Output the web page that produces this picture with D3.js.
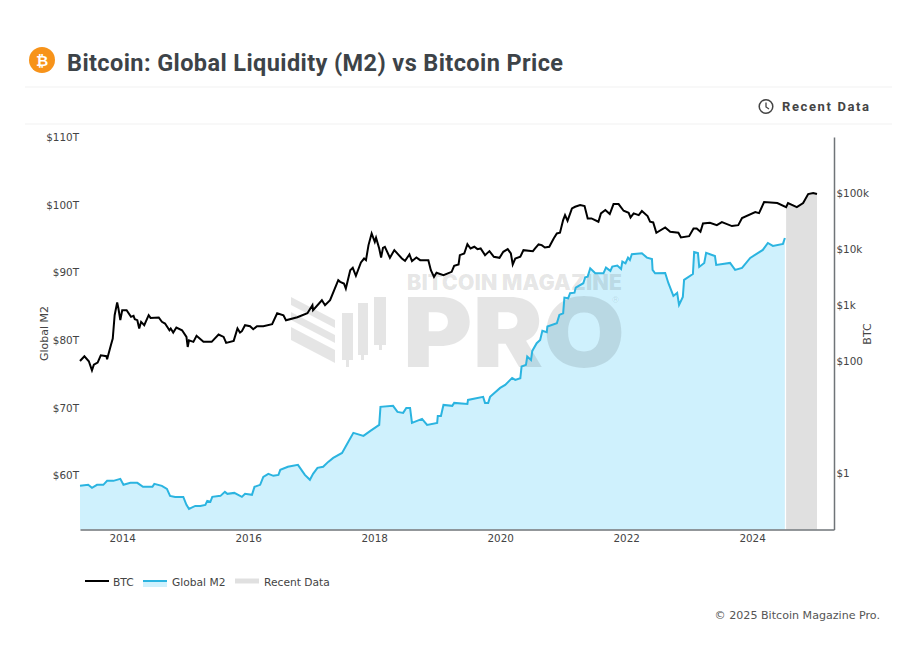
<!DOCTYPE html>
<html><head><meta charset="utf-8">
<script src="https://cdn.jsdelivr.net/npm/d3@7"></script>
<style>html,body{margin:0;padding:0;background:#fff}svg{display:block}</style>
</head><body><div id="c"></div>
<script>
const btcYears=[2013.33,2013.40,2013.47,2013.52,2013.55,2013.61,2013.66,2013.75,2013.76,2013.82,2013.85,2013.88,2013.92,2013.94,2013.97,2014.00,2014.07,2014.14,2014.18,2014.20,2014.24,2014.27,2014.30,2014.35,2014.42,2014.45,2014.58,2014.63,2014.68,2014.75,2014.77,2014.81,2014.86,2014.95,2015.02,2015.04,2015.06,2015.13,2015.18,2015.29,2015.42,2015.53,2015.61,2015.65,2015.77,2015.83,2015.87,
2015.90,2015.95,2016.03,2016.08,2016.14,2016.24,2016.38,2016.46,2016.56,2016.60,2016.78,2016.94,2017.02,2017.03,2017.17,2017.22,2017.30,2017.43,
2017.46,2017.52,2017.55,2017.62,2017.66,2017.71,2017.79,2017.84,2017.87,2017.91,2017.96,2018.01,2018.03,2018.08,2018.11,2018.14,2018.17,2018.25,2018.32,2018.44,2018.49,2018.56,2018.60,2018.67,2018.73,2018.86,2018.90,2018.95,2018.99,2019.10,2019.23,2019.27,2019.34,2019.36,2019.43,2019.48,2019.53,2019.59,2019.64,2019.69,2019.76,2019.83,2019.90,2019.99,2020.05,2020.12,2020.17,2020.20,2020.24,2020.32,2020.37,2020.52,
2020.555,2020.61,2020.66,2020.71,2020.78,2020.85,2020.90,2020.95,2021.00,2021.03,2021.07,2021.14,2021.19,2021.27,2021.34,2021.39,2021.45,2021.56,2021.60,2021.67,2021.74,2021.80,2021.88,2021.96,2022.04,2022.07,2022.12,2022.20,2022.25,2022.34,2022.38,2022.43,2022.48,2022.62,2022.70,2022.83,2022.87,2023.00,2023.07,2023.12,2023.18,2023.22,2023.33,
2023.44,2023.52,2023.68,2023.78,2023.84,2024.05,2024.11,2024.19,2024.40,2024.54,2024.57,2024.71,2024.81,2024.89,2024.97,2025.03];
const btcPrice=[101,123,100,69,87,95,128,123,109,193,254,664,1117,873,541,815,815,620,645,562,541,384,505,440,664,594,603,505,471,358,384,325,400,358,272,180,237,222,284,222,222,300,272,213,231,384,325,
344,440,422,373,422,422,458,720,662,540,611,720,1000,815,1227,1000,1227,2793,
2612,2438,1986,4217,4645,3342,5781,6808,6360,11800,19050,13500,15960,10280,7112,10570,11020,7015,9616,6808,6194,8030,6109,7112,6360,6360,4217,3206,3784,3436,3938,5050,5333,7816,8375,12300,10280,11020,10000,10280,7816,9226,7311,7015,8974,10000,8375,5333,6808,7311,9600,9210,
10280,12130,11800,10720,11020,15520,19050,19590,32980,40550,32060,53330,57020,61090,58610,35320,35320,30830,43350,49770,42170,63680,63680,48420,44570,36810,43350,40460,47750,38900,30830,29990,19590,24380,20420,19590,16180,17060,23390,23390,20420,28770,29580,
26800,30300,25800,26800,35800,45800,43900,69000,66300,56200,66300,56200,66300,96000,100000,96000];
const m2Years=[2013.33,2013.46,2013.52,2013.60,2013.70,2013.76,2013.86,2013.97,2014.02,2014.13,2014.24,2014.33,2014.48,2014.51,2014.63,2014.71,2014.76,2014.84,2014.97,2015.02,2015.06,2015.16,2015.24,2015.32,2015.35,2015.40,2015.43,2015.56,2015.63,2015.67,2015.78,2015.90,2015.95,2016.06,2016.10,2016.19,2016.24,2016.32,2016.40,2016.48,2016.51,2016.63,2016.79,2016.90,2016.98,2017.03,2017.10,2017.19,2017.27,2017.35,2017.49,2017.59,2017.67,2017.83,2017.94,2018.08,2018.10,2018.30,2018.37,2018.46,2018.51,2018.57,2018.60,2018.76,2018.84,2019.00,2019.01,2019.06,2019.10,2019.24,2019.27,2019.48,2019.49,2019.73,2019.76,2019.81,2019.84,2020.00,2020.08,2020.19,2020.24,
2020.32,2020.34,2020.41,2020.43,2020.49,2020.51,2020.58,2020.635,2020.67,2020.74,2020.75,2020.90,2020.94,2021.00,2021.02,2021.08,2021.11,2021.18,2021.20,2021.32,2021.35,2021.39,2021.43,2021.51,2021.64,2021.68,2021.75,2021.78,2021.86,2021.92,2021.94,2021.99,2022.03,2022.06,2022.09,2022.25,2022.33,2022.41,2022.42,2022.46,
2022.62,2022.67,2022.75,2022.81,2022.84,2022.90,2022.92,2023.06,2023.08,2023.14,2023.16,2023.24,2023.27,2023.41,2023.43,2023.65,2023.73,2023.84,2023.97,2024.17,2024.25,2024.33,2024.49,2024.52];
const m2Values=[58.45,58.6,58.15,58.6,58.6,59.19,59.19,59.48,58.6,58.89,58.89,58.3,58.3,58.74,58.45,58.0,56.97,56.82,56.82,55.64,55.05,55.49,55.49,55.64,56.23,56.09,56.82,56.97,57.56,57.27,57.41,56.82,57.27,57.12,58.3,58.6,59.78,60.22,59.93,60.07,60.81,61.26,61.55,60.07,59.34,60.22,61.11,61.26,61.99,62.58,63.32,64.95,66.28,65.83,66.57,67.46,70.12,70.27,69.38,69.23,69.97,69.97,67.75,68.35,67.46,67.75,68.79,68.79,70.41,70.27,70.71,70.56,71.15,71.6,70.71,70.71,71.6,72.92,73.37,74.4,74.11,
74.35,76.08,76.33,77.56,77.06,78.39,79.53,80.02,81.35,81.15,81.99,82.48,83.71,83.96,86.27,86.17,86.91,87.0,87.75,88.39,89.27,89.37,90.6,89.86,89.86,90.7,90.21,90.85,91.0,90.5,91.59,91.34,92.18,91.83,92.67,92.82,92.18,91.98,90.36,89.86,
89.91,88.43,86.51,86.96,85.18,86.37,88.88,89.76,93.01,92.87,90.8,91.39,92.87,92.42,91.09,91.39,90.36,90.65,92.13,93.31,94.34,93.9,94.2,95.08];
const recentStart=2024.54;
const xTicks=[2014,2016,2018,2020,2022,2024];
const leftTicks=[60,70,80,90,100,110];
const rightTicks=[1,100,1000,10000,100000];
const rightLabels=["$1","$100","$1k","$10k","$100k"];
const legendNames=["BTC","Global M2","Recent Data"];

const AX='"DejaVu Sans",Verdana,sans-serif', UI='Roboto,sans-serif';
const svg=d3.select("#c").append("svg").attr("width",917).attr("height",667);
svg.append("rect").attr("width",917).attr("height",667).attr("fill","#fff");

const x=d3.scaleLinear().domain([2013.33,2025.3]).range([80,834]);
const yL=d3.scaleLinear().domain([52,110]).range([529.5,137]);
const yR=d3.scaleLog().domain([0.1,1000000]).range([529.5,137]);
const btc=btcYears.map((t,i)=>({t,v:btcPrice[i]}));
const m2=m2Years.map((t,i)=>({t,v:m2Values[i]}));

// header
svg.append("circle").attr("cx",42).attr("cy",60).attr("r",13).attr("fill","#f7931a");
svg.append("text").attr("x",42).attr("y",66).attr("text-anchor","middle").attr("fill","#fff")
  .attr("font-family",AX).attr("font-weight",700).attr("font-size",15).text("₿");
svg.append("text").attr("x",67).attr("y",71).attr("font-family",UI).attr("font-weight",700).attr("font-size",23.5)
  .attr("fill","#3d4348").attr("textLength",496).text("Bitcoin: Global Liquidity (M2) vs Bitcoin Price");
[87,124].forEach(y=>svg.append("line").attr("x1",25).attr("x2",892).attr("y1",y).attr("y2",y).attr("stroke","#f1f1f1"));
svg.append("circle").attr("cx",766).attr("cy",106.5).attr("r",6.8).attr("fill","none").attr("stroke","#444").attr("stroke-width",1.5);
svg.append("path").attr("d","M766 102.5V107L769 109").attr("fill","none").attr("stroke","#444").attr("stroke-width",1.3);
svg.append("text").attr("x",782).attr("y",111).attr("font-family",UI).attr("font-weight",700).attr("font-size",13)
  .attr("fill","#444").attr("textLength",87).text("Recent Data");

// area
svg.append("path").datum(m2).attr("fill","#cff1fd")
  .attr("d",d3.area().x(d=>x(d.t)).y0(yL.range()[0]).y1(d=>yL(d.v)));

// watermark
const wm=svg.append("g").attr("fill","rgba(0,0,0,0.1)");
wm.append("text").attr("x",407).attr("y",289.500).attr("font-family","Inter,"+UI).attr("font-weight",900).attr("font-size",21)
  .attr("textLength",215).attr("lengthAdjust","spacingAndGlyphs").text("BITCOIN MAGAZINE");
wm.append("text").attr("x",403).attr("y",367).attr("font-family","Inter,"+UI).attr("font-weight",900).attr("font-size",96)
  .attr("textLength",222).attr("lengthAdjust","spacingAndGlyphs").text("PRO");
wm.append("text").attr("x",612).attr("y",303).attr("font-family",UI).attr("font-size",9).text("®");
["M291 297L335 320V328L291 305Z","M291 312L335 335V343L291 320Z","M291 327L335 350V363L291 340Z",
 "M346.500 307V313H353V360H349V367H346V360H342V313H346.500Z","M362.500 298V303H368V355H364V360H361V355H358V303H362.500Z","M379.500 290V297H386V345H382V350H379V345H374V297H379.500Z"]
 .forEach(d=>wm.append("path").attr("d",d));

// recent data band
svg.append("path").datum(btc.filter(d=>d.t>=recentStart)).attr("fill","#e0e0e0")
  .attr("d",d3.area().x(d=>x(d.t)).y0(yR.range()[0]).y1(d=>yR(d.v)));

// lines
svg.append("path").datum(m2).attr("fill","none").attr("stroke","#2bb4e0").attr("stroke-width",2)
  .attr("d",d3.line().x(d=>x(d.t)).y(d=>yL(d.v)));
svg.append("path").datum(btc).attr("fill","none").attr("stroke","#000").attr("stroke-width",2)
  .attr("d",d3.line().x(d=>x(d.t)).y(d=>yR(d.v)));

// axes
function style(g){g.selectAll("text").attr("font-family",AX).attr("font-size",10.4).attr("fill","#444");}
const gx=svg.append("g").attr("transform","translate(0,529.5)")
  .call(d3.axisBottom(x).tickValues(xTicks).tickFormat(d3.format("d")).tickSize(0).tickPadding(5)).call(style);
gx.select(".domain").attr("stroke","#6f7478").attr("stroke-width",1.5);
const gl=svg.append("g").attr("transform","translate(80,0)")
  .call(d3.axisLeft(yL).tickValues(leftTicks).tickFormat(d=>"$"+d+"T").tickSize(0).tickPadding(1)).call(style);
gl.select(".domain").remove();
const gr=svg.append("g").attr("transform","translate(834,0)")
  .call(d3.axisRight(yR).tickValues(rightTicks).tickFormat(d=>rightLabels[rightTicks.indexOf(d)]).tickSize(0).tickPadding(2.5)).call(style);
gr.select(".domain").attr("stroke","#6f7478").attr("stroke-width",1.5);
svg.append("text").attr("transform","translate(48,333.500) rotate(-90)").attr("text-anchor","middle")
  .attr("font-family",AX).attr("font-size",11).attr("fill","#444").text("Global M2");
svg.append("text").attr("transform","translate(871,334) rotate(-90)").attr("text-anchor","middle")
  .attr("font-family",AX).attr("font-size",11).attr("fill","#444").text("BTC");

// legend
const lg=[{x:85,c:"#000",w:2,t:113},{x:143,c:"#2bb4e0",w:2,t:172},{x:235,c:"#e0e0e0",w:5,t:264}];
svg.append("rect").attr("x",143).attr("y",581).attr("width",24).attr("height",6).attr("fill","#cff1fd");
lg.forEach((l,i)=>{
  svg.append("line").attr("x1",l.x).attr("x2",l.x+24).attr("y1",581).attr("y2",581).attr("stroke",l.c).attr("stroke-width",l.w);
  svg.append("text").attr("x",l.t).attr("y",586).attr("font-family",AX).attr("font-size",10.7).attr("fill","#444").text(legendNames[i]);
});
svg.append("text").attr("x",880).attr("y",619).attr("text-anchor","end").attr("font-family",AX).attr("font-size",11.1)
  .attr("fill","#555").text("© 2025 Bitcoin Magazine Pro.");
</script></body></html>
